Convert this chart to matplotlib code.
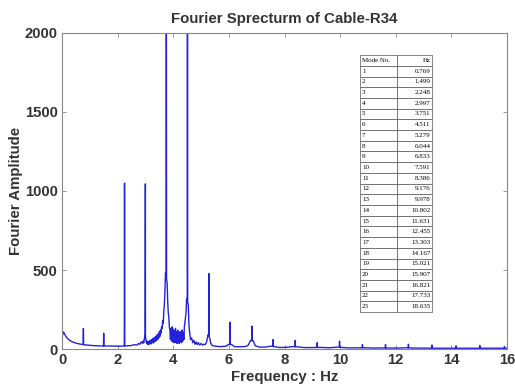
import numpy as np
import matplotlib
matplotlib.use("Agg")
import matplotlib.pyplot as plt

# ---------------- data ----------------
mode_no = list(range(1, 24))
mode_hz = [0.769, 1.499, 2.248, 2.997, 3.751, 4.511, 5.279, 6.044, 6.833, 7.591,
           8.386, 9.176, 9.978, 10.802, 11.631, 12.455, 13.303, 14.167, 15.021,
           15.907, 16.821, 17.733, 18.635]

# peak amplitudes for the modes inside the 0-16 Hz window (modes 1-20)
peak_amp = [130, 100, 1050, 1045, 2600, 2600, 478, 170, 145, 60,
            55, 40, 50, 28, 28, 30, 25, 20, 22, 15]

# background (between-peak) spectrum as (Hz, amplitude) readings
base_pts = [
    (0.00, 40), (0.02, 90), (0.05, 108), (0.08, 100), (0.12, 85), (0.18, 70),
    (0.25, 58), (0.35, 47), (0.45, 40), (0.60, 33), (0.75, 28), (0.90, 25),
    (1.10, 22), (1.30, 20), (1.60, 19), (1.90, 18), (2.10, 18), (2.30, 20),
    (2.50, 22), (2.60, 28), (2.70, 25), (2.75, 35), (2.80, 30), (2.85, 45),
    (2.90, 35), (2.92, 50), (2.94, 40), (2.96, 65), (2.98, 85), (3.00, 80),
    (3.02, 55), (3.04, 35), (3.06, 50), (3.08, 30), (3.10, 45), (3.12, 28),
    (3.14, 50), (3.16, 35), (3.18, 55), (3.20, 32), (3.22, 60), (3.24, 40),
    (3.26, 65), (3.28, 38), (3.30, 70), (3.32, 45), (3.34, 75), (3.36, 48),
    (3.38, 80), (3.40, 55), (3.42, 90), (3.44, 60), (3.46, 95), (3.48, 70),
    (3.50, 110), (3.52, 80), (3.54, 120), (3.56, 100), (3.58, 140), (3.60, 130),
    (3.62, 180), (3.64, 160), (3.66, 240), (3.68, 280), (3.70, 360), (3.72, 480),
    (3.78, 420), (3.80, 300), (3.82, 230), (3.84, 200), (3.86, 140),
    (3.88, 120), (3.90, 60), (3.92, 130), (3.94, 50), (3.96, 140), (3.98, 45),
    (4.00, 125), (4.02, 40), (4.04, 115), (4.06, 45), (4.08, 130), (4.10, 40),
    (4.12, 110), (4.14, 35), (4.16, 120), (4.18, 40), (4.20, 100), (4.22, 35),
    (4.24, 110), (4.26, 45), (4.28, 95), (4.30, 40), (4.32, 120), (4.34, 50),
    (4.36, 105), (4.38, 60), (4.40, 140), (4.42, 170), (4.44, 200), (4.46, 230),
    (4.48, 320), (4.54, 280), (4.56, 170), (4.58, 120), (4.60, 90), (4.62, 60),
    (4.66, 70), (4.70, 40), (4.74, 55), (4.78, 30), (4.82, 45), (4.86, 28),
    (4.90, 40), (4.95, 25), (5.00, 35), (5.05, 25), (5.10, 30), (5.15, 28),
    (5.20, 45), (5.25, 90), (5.31, 70), (5.35, 35), (5.40, 22), (5.50, 18),
    (5.70, 15), (5.90, 18), (6.00, 30), (6.10, 28), (6.20, 15), (6.40, 14),
    (6.60, 16), (6.70, 25), (6.78, 55), (6.88, 50), (6.95, 20), (7.10, 12),
    (7.30, 12), (7.50, 18), (7.65, 15), (7.80, 10), (8.00, 10), (8.30, 15),
    (8.45, 14), (8.70, 9), (9.00, 9), (9.30, 10), (9.60, 8), (9.90, 12),
    (10.05, 10), (10.30, 7), (10.60, 7), (10.90, 8), (11.20, 6), (11.50, 7),
    (11.80, 6), (12.10, 6), (12.40, 8), (12.60, 6), (13.00, 6), (13.50, 5),
    (14.00, 5), (14.50, 5), (15.00, 5), (15.50, 5), (16.00, 5),
]

# ---------------- build spectrum line ----------------
bf = np.array([p[0] for p in base_pts], float)
ba = np.array([p[1] for p in base_pts], float)
pf = np.array(mode_hz[:len(peak_amp)], float)
pa = np.array(peak_amp, float)
d = 0.008
xs = np.concatenate([bf, pf - d, pf, pf + d])
ys = np.concatenate([ba, np.interp(pf - d, bf, ba), pa, np.interp(pf + d, bf, ba)])
order = np.argsort(xs, kind="stable")
xs, ys = xs[order], ys[order]

# ---------------- figure ----------------
plt.rcParams['font.family'] = ['Liberation Sans', 'DejaVu Sans']
fig = plt.figure(figsize=(5.15, 3.89), dpi=100)
ax = fig.add_axes([0.1204, 0.1028, 0.8641, 0.8124])

ax.plot(xs, ys, color='#2222dd', lw=1.0)

txt_col = '#333333'
ax.set_xlim(0, 16)
ax.set_ylim(0, 2000)
ax.set_xticks(range(0, 17, 2))
ax.set_yticks([0, 500, 1000, 1500, 2000])
ax.tick_params(direction='in', top=True, right=True, length=3, width=0.6,
               color='#888888', labelsize=10.7, labelcolor=txt_col, pad=3)
for lab in ax.get_xticklabels() + ax.get_yticklabels():
    lab.set_fontweight('bold')
for s in ax.spines.values():
    s.set_color('#888888')
    s.set_linewidth(0.8)

ax.set_title('Fourier Sprecturm of Cable-R34', fontsize=10.8, fontweight='bold',
             color=txt_col, pad=7)
ax.set_xlabel('Frequency : Hz', fontsize=10.8, fontweight='bold', color=txt_col, labelpad=2)
ax.set_ylabel('Fourier Amplitude', fontsize=10.8, fontweight='bold', color=txt_col, labelpad=1)

# ---------------- mode table ----------------
cell_text = [['Mode No.', 'Hz']] + [[str(n), f'{h:.3f}'] for n, h in zip(mode_no, mode_hz)]
tbl = ax.table(cellText=cell_text, colWidths=[0.083, 0.079],
               bbox=[0.67, 0.117, 0.162, 0.813], cellLoc='left')
tbl.auto_set_font_size(False)
for (r, c), cell in tbl.get_celld().items():
    cell.set_linewidth(0.5)
    cell.set_edgecolor('#555555')
    cell.set_facecolor('white')
    t = cell.get_text()
    t.set_fontsize(5.0)
    t.set_fontfamily('Liberation Serif')
    if c == 1:
        t.set_horizontalalignment('right')
    cell.PAD = 0.05

fig.savefig('out.png', dpi=100)
